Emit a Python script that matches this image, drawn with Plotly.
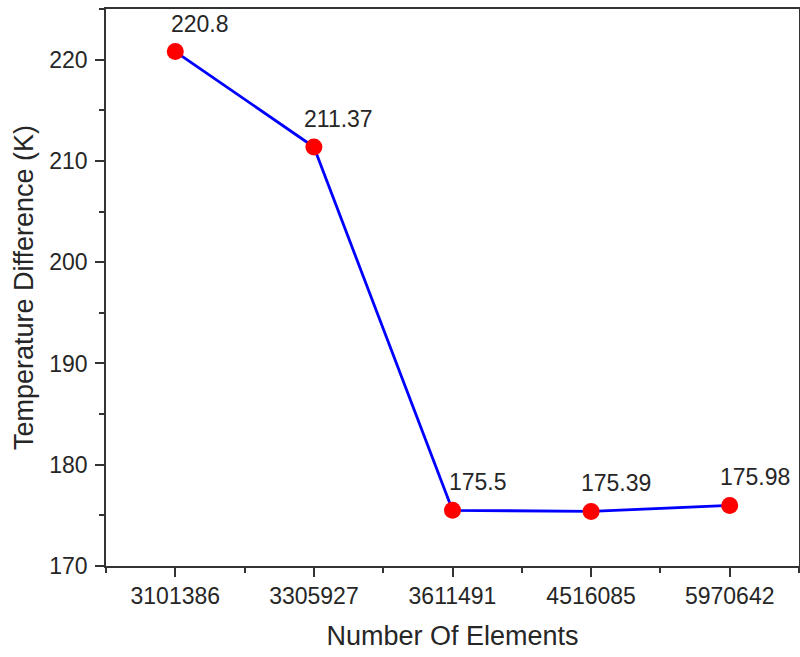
import plotly.graph_objects as go

categories = ["3101386", "3305927", "3611491", "4516085", "5970642"]
temp_diff = [220.8, 211.37, 175.5, 175.39, 175.98]
point_labels = ["220.8", "211.37", "175.5", "175.39", "175.98"]
y_ticks = [170, 180, 190, 200, 210, 220]

idx = list(range(len(categories)))

FONT = "Liberation Sans, Arial"
tick_font = dict(family=FONT, size=23, color="#262626")
title_font = dict(family=FONT, size=27, color="#262626")

fig = go.Figure()
fig.add_trace(go.Scatter(
    x=idx, y=temp_diff, mode="lines+markers",
    line=dict(color="#0000ff", width=2.8),
    marker=dict(color="#ff0000", size=17),
    showlegend=False,
))

for i, (v, t) in enumerate(zip(temp_diff, point_labels)):
    fig.add_annotation(x=i, y=v, text=t, showarrow=False,
                       xshift=25, yshift=28,
                       font=dict(family=FONT, size=23, color="#262626"))

fig.update_layout(
    width=800, height=657,
    margin=dict(l=106, r=1, t=9, b=91),
    paper_bgcolor="white", plot_bgcolor="white",
    font=tick_font,
    xaxis=dict(
        range=[-0.5, 4.5], tickvals=idx, ticktext=categories,
        showline=True, mirror=True, linecolor="#333", linewidth=1.5,
        ticks="outside", ticklen=9, tickwidth=1.5, tickcolor="#333",
        minor=dict(tickvals=[-0.5, 0.5, 1.5, 2.5, 3.5, 4.5], ticks="outside", ticklen=5, tickwidth=1.5, tickcolor="#333"),
        showgrid=False, zeroline=False, automargin=False,
        title=dict(text="Number Of Elements", font=title_font, standoff=18),
        tickfont=tick_font,
    ),
    yaxis=dict(
        range=[170, 225], tickvals=y_ticks,
        showline=True, mirror=True, linecolor="#333", linewidth=1.5,
        ticks="outside", ticklen=9, tickwidth=1.5, tickcolor="#333",
        minor=dict(dtick=5, tick0=170, ticks="outside", ticklen=5, tickwidth=1.5, tickcolor="#333"),
        showgrid=False, zeroline=False, automargin=False,
        ticklabelstandoff=3,
        title=dict(text="Temperature Difference (K)", font=title_font, standoff=8),
        tickfont=tick_font,
    ),
)

fig.write_html("out.html",
               config={"displayModeBar": False},
               post_script="document.body.style.margin='0';document.body.style.overflow='hidden';")
